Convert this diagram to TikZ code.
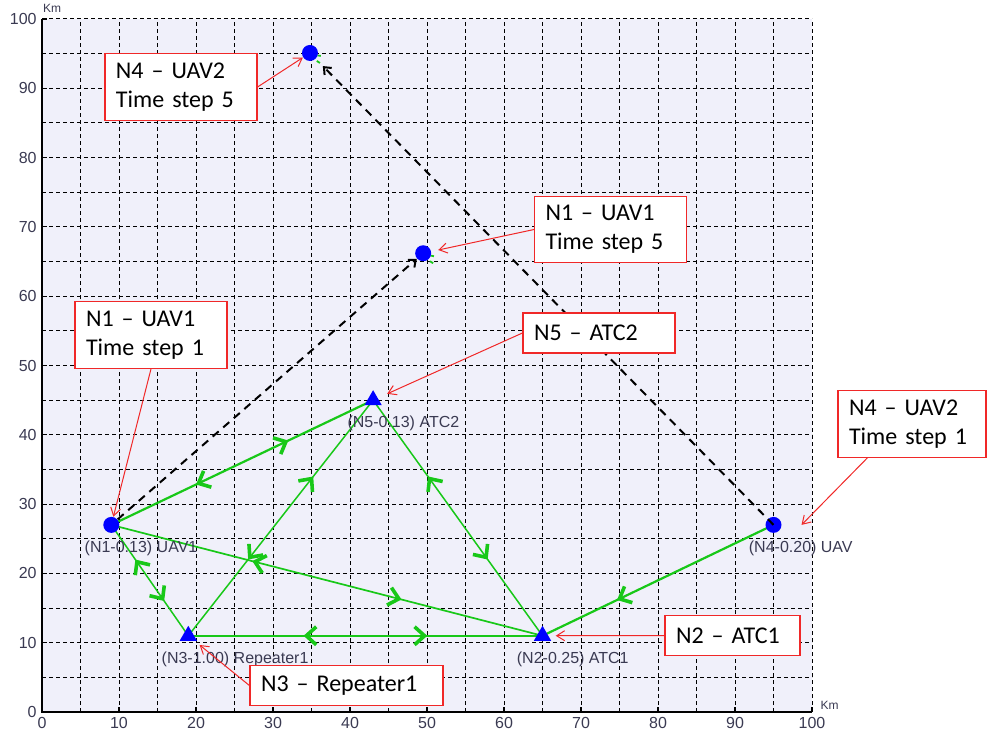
\documentclass[tikz,border=0pt]{standalone}
\usepackage{fontspec}
\setmainfont{Carlito}
\setsansfont{Liberation Sans}
\usepackage{tikz}
\usetikzlibrary{
  shapes.geometric,
  arrows.meta,
  positioning,
  decorations.markings
}
\definecolor{PlotBg}{HTML}{F0F0FA}
\definecolor{LinkGreen}{HTML}{18C818}
\definecolor{MarkBlue}{HTML}{0000FF}
\definecolor{AxisInk}{HTML}{3A3A52}
\definecolor{CallRed}{HTML}{F02828}
\tikzset{
  % green arrow head on links
  headf/.style={line width=1.8pt, line cap=butt, line join=miter},
  % UAV marker
  uav/.style={circle, fill=MarkBlue, inner sep=0pt, minimum size=8pt},
  % ground station marker
  atc/.style={regular polygon, regular polygon sides=3, fill=MarkBlue,
    inner sep=0pt, minimum size=10pt},
  % link, heads both ways
  bidir/.style={color=LinkGreen, line width=#1, postaction={decorate},
    decoration={markings,
      mark=at position 0.333 with {\draw[headf] (5pt,4.5pt) -- (0,0) -- (5pt,-4.5pt);},
      mark=at position 0.667 with {\draw[headf] (-5pt,4.5pt) -- (0,0) -- (-5pt,-4.5pt);}}},
  bidir/.default=0.75pt,
  % link, one head
  onedir/.style={color=LinkGreen, line width=#1, postaction={decorate},
    decoration={markings,
      mark=at position 0.667 with {\draw[headf] (-5pt,4.5pt) -- (0,0) -- (-5pt,-4.5pt);}}},
  onedir/.default=1.1pt,
  % leftover head stubs
  stub/.style={LinkGreen, line width=0.9pt},
  % UAV track
  traj/.style={black, line width=1pt, dash pattern=on 4pt off 3pt,
    -{Straight Barb[length=3pt,width=5pt]}},
  % grid and axes
  grd/.style={black, line width=0.5pt, dash pattern=on 2pt off 1.5pt},
  axis/.style={black, line width=0.6pt},
  tick/.style={font=\sffamily\fontsize{8}{9}\selectfont, text=AxisInk, inner sep=2.5pt},
  unit/.style={font=\sffamily\fontsize{6}{7}\selectfont, text=AxisInk, inner sep=0pt},
  % node label
  lbl/.style={font=\sffamily\fontsize{8}{9}\selectfont, text=AxisInk,
    inner sep=0pt, anchor=west},
  % callout box
  call/.style={draw=CallRed, line width=0.6pt, fill=white, text width=#1,
    align=left, inner xsep=5.5pt, inner ysep=4.5pt, minimum height=20pt,
    font=\fontsize{12}{14.5}\selectfont},
  call/.default=65pt,
  % callout arrow
  carr/.style={draw=CallRed, line width=0.5pt, -{Straight Barb[length=4pt,width=5pt]}}
}

\begin{document}
\begin{tikzpicture}[x=3.85pt, y=3.465pt]
  \useasboundingbox (-21pt,-14pt) rectangle (473.5pt,356pt);

  % Plot area
  \fill[PlotBg] (0,0) rectangle (100,100);
  \foreach \k in {5,10,...,100} {
    \draw[grd] (\k,0) -- (\k,100);
    \draw[grd] (0,\k) -- (100,\k);
  }
  \draw[axis] (0,100) -- (0,0) -- (100,0);
  \foreach \k in {0,10,...,100} {
    \draw[axis] (\k,0) -- ++(0,2.5pt);
    \draw[axis] (0,\k) -- ++(2.5pt,0);
    \node[tick, below] (xt\k) at (\k,0) {\k};
    \node[tick, left]  (yt\k) at (0,\k) {\k};
  }
  \node[unit] (kmy) at (1.3,101.6) {Km};
  \node[unit] (kmx) at (102.3,1.0) {Km};

  % Positions
  \coordinate (p1)  at (9,27);
  \coordinate (p2)  at (65,11);
  \coordinate (p3)  at (19,11);
  \coordinate (p4)  at (95,27);
  \coordinate (p5)  at (43,45);
  \coordinate (p1b) at (49.5,66.2);
  \coordinate (p4b) at (34.8,95.1);

  % Links
  \draw[bidir=1.1pt] (p1) -- (p5);
  \draw[bidir]       (p1) -- (p3);
  \draw[bidir=0.85pt] (p1) -- (p2);
  \draw[bidir]       (p3) -- (p5);
  \draw[bidir=1.1pt] (p3) -- (p2);
  \draw[bidir]       (p5) -- (p2);
  \draw[onedir]      (p4) -- (p2);
  \foreach \p in {p1b,p4b} {
    \draw[stub] ([shift={(3.8pt,-1.2pt)}]\p) -- ++(1.6pt,-0.3pt);
    \draw[stub] ([shift={(3.4pt,-4pt)}]\p) -- ++(1.6pt,-1pt);
  }

  % Markers
  \node[uav] (n1)  at (p1)  {};
  \node[atc] (n2)  at (p2)  {};
  \node[atc] (n3)  at (p3)  {};
  \node[uav] (n4)  at (p4)  {};
  \node[atc] (n5)  at (p5)  {};
  \node[uav] (n1b) at (p1b) {};
  \node[uav] (n4b) at (p4b) {};

  % UAV tracks
  \draw[traj] (n1) -- (n1b);
  \draw[traj, shorten >=5pt] (n4.center) -- (n4b);

  % Node labels
  \node[lbl] (l1) at ([shift={(-13.5pt,-11.8pt)}]p1) {(N1-0.13) UAV1};
  \node[lbl] (l2) at ([shift={(-13pt,-11.8pt)}]p2) {(N2-0.25) ATC1};
  \node[lbl] (l3) at ([shift={(-13.5pt,-11.8pt)}]p3) {(N3-1.00) Repeater1};
  \node[lbl] (l4) at ([shift={(-12.5pt,-11.8pt)}]p4) {(N4-0.20) UAV};
  \node[lbl] (l5) at ([shift={(-13pt,-11.8pt)}]p5) {(N5-0.13) ATC2};

  % Callouts
  \node[call] (c1) at (18.05,90.19) {N4 -- UAV2\\Time step 5};
  \node[call] (c2) at (73.83,69.62) {N1 -- UAV1\\Time step 5};
  \node[call] (c3) at (14.16,54.40) {N1 -- UAV1\\Time step 1};
  \node[call] (c4) at (72.34,54.69) {N5 -- ATC2};
  \node[call=63pt] (c5) at (112.99,41.56) {N4 -- UAV2\\Time step 1};
  \node[call=56.5pt] (c6) at (89.68,11.04) {N2 -- ATC1};
  \node[call=85.5pt] (c7) at (39.55,3.82) {N3 -- Repeater1};

  \draw[carr] (c1.east) -- (n4b);
  \draw[carr, shorten >=3.5pt] (c2.west) -- (n1b);
  \draw[carr] (c3.south) -- (n1);
  \draw[carr, shorten >=5pt] (c4.west) -- (n5);
  \draw[carr] ([xshift=15pt]c5.south west) -- ([xshift=14pt]n4.center);
  \draw[carr, shorten >=3.5pt] (c6.west) -- (n2);
  \draw[carr, shorten >=3pt] (c7.west) -- (n3);

\end{tikzpicture}
\end{document}
